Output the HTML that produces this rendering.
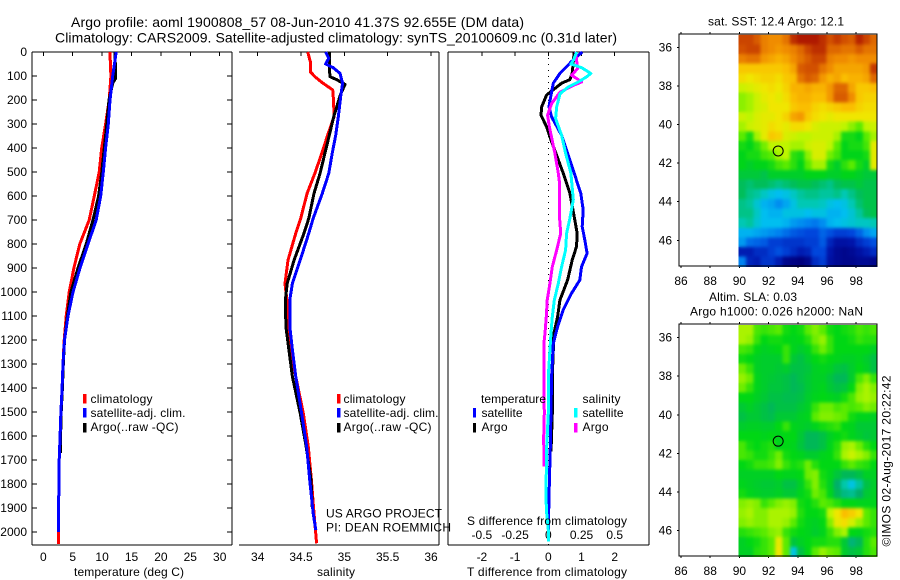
<!DOCTYPE html>
<html lang="en">
<head>
<meta charset="utf-8">
<title>Argo profile</title>
<style>
html,body{margin:0;padding:0;background:#fff;}
svg{display:block;font-family:"Liberation Sans",sans-serif;fill:#000;font-size:12px;}
</style>
</head>
<body>
<svg id="chart" width="900" height="580" viewBox="0 0 900 580" xmlns="http://www.w3.org/2000/svg">
<defs>
<filter id="soften" x="0" y="0" width="100%" height="100%" color-interpolation-filters="sRGB">
<feGaussianBlur in="SourceGraphic" stdDeviation="1.5" result="blurred"/>
<feMerge><feMergeNode in="SourceGraphic"/><feMergeNode in="blurred"/></feMerge>
</filter>
</defs>
<rect width="900" height="580" fill="#fff"/>
<text x="71" y="27" font-size="14" textLength="453">Argo profile: aoml 1900808_57 08-Jun-2010 41.37S 92.655E (DM data)</text>
<text x="55" y="42.5" font-size="14" textLength="562">Climatology: CARS2009. Satellite-adjusted climatology: synTS_20100609.nc (0.31d later)</text>
<g id="layer-axes"></g>
<g id="layer-marks"></g>

<text x="74" y="576" textLength="110">temperature (deg C)</text>
<text x="317" y="576" textLength="38">salinity</text>
<text x="467" y="576" textLength="160">T difference from climatology</text>
<text x="467" y="525" textLength="160">S difference from climatology</text>

<g>
<rect x="83" y="394" width="3.5" height="9.5" fill="#f00"/>
<text x="90.5" y="403" textLength="62">climatology</text>
<rect x="83" y="408" width="3.5" height="9.5" fill="#00f"/>
<text x="90.5" y="417" textLength="95">satellite-adj. clim.</text>
<rect x="83" y="423" width="3.5" height="9.5" fill="#000"/>
<text x="90.5" y="431" textLength="88">Argo(..raw -QC)</text>
</g>
<g>
<rect x="337" y="394" width="3.5" height="9.5" fill="#f00"/>
<text x="343.5" y="403" textLength="62">climatology</text>
<rect x="337" y="408" width="3.5" height="9.5" fill="#00f"/>
<text x="343.5" y="417" textLength="95">satellite-adj. clim.</text>
<rect x="337" y="423" width="3.5" height="9.5" fill="#000"/>
<text x="343.5" y="431" textLength="88">Argo(..raw -QC)</text>
</g>
<g>
<text x="481" y="403" textLength="65">temperature</text>
<rect x="473" y="408" width="3" height="9.5" fill="#00f"/>
<text x="481.5" y="417" textLength="41">satellite</text>
<rect x="473" y="423" width="3" height="9.5" fill="#000"/>
<text x="481.5" y="431" textLength="26">Argo</text>
<text x="582.5" y="403" textLength="38">salinity</text>
<rect x="574" y="408" width="3.5" height="9.5" fill="#0ff"/>
<text x="582.5" y="417" textLength="41">satellite</text>
<rect x="574" y="423" width="3.5" height="9.5" fill="#f0f"/>
<text x="582.5" y="431" textLength="26">Argo</text>
</g>
<text x="326" y="517.5" textLength="116">US ARGO PROJECT</text>
<text x="326" y="531.5" textLength="125">PI: DEAN ROEMMICH</text>

<text x="708" y="25.5" textLength="136">sat. SST: 12.4 Argo: 12.1</text>
<text x="709" y="301" textLength="88">Altim. SLA: 0.03</text>
<text x="690" y="315.5" textLength="173">Argo h1000: 0.026 h2000: NaN</text>
<text transform="translate(890.5,546.5) rotate(-90)" textLength="171">©IMOS 02-Aug-2017 20:22:42</text>
</svg>

<script>
// ---- profile data (depth in dbar) ----
const depthTicks = [0,100,200,300,400,500,600,700,800,900,1000,1100,1200,1300,1400,1500,1600,1700,1800,1900,2000];
const tempTicks = [0,5,10,15,20,25,30];
const salTicks = [34,34.5,35,35.5,36];
const salTickLabels = ['34','34.5','35','35.5','36'];
const tDiffTicks = [-2,-1,0,1,2];
const sDiffTicks = [-0.5,-0.25,0,0.25,0.5];
const sDiffTickLabels = ['-0.5','-0.25','0','0.25','0.5'];

const tempClimDepth = [0,40,100,200,300,400,500,600,700,800,900,1000,1100,1200,1300,1400,1500,1600,1700,1800,1900,2000,2050];
const tempClim = [11.35,11.4,11.5,11.2,10.6,9.93,9.5,8.67,7.8,6.2,5.2,4.4,3.9,3.55,3.35,3.2,3.0,2.85,2.7,2.7,2.55,2.55,2.55];
const tempSatDepth = [0,100,200,300,400,500,600,700,800,900,1000,1100,1200,1300,1400,1500,1600,1700,1800,1900,2000];
const tempSat = [12.4,11.8,11.34,11.05,10.6,10.2,9.76,9.0,7.6,6.25,5.05,4.2,3.6,3.35,3.2,3.0,2.85,2.7,2.7,2.55,2.55];
const tempArgoDepth = [0,100,110,130,200,300,400,500,600,700,800,900,1000,1100,1200,1300,1400,1500,1600,1670];
const tempArgo = [12.2,12.3,12.3,11.8,11.17,10.8,10.37,9.95,9.4,8.45,7.3,5.9,4.7,4.1,3.6,3.4,3.25,3.05,2.95,2.95];

const salClimDepth = [0,40,82,103,128,158,207,270,347,422,505,589,693,755,867,964,1061,1172,1353,1505,1645,1783,1922,2047];
const salClim = [34.577,34.607,34.607,34.66,34.745,34.865,34.876,34.88,34.807,34.74,34.66,34.57,34.496,34.44,34.35,34.315,34.345,34.35,34.44,34.526,34.584,34.62,34.65,34.68];
const salSatDepth = [0,26,50,65,89,130,179,270,347,422,505,589,693,755,867,964,1033,1144,1241,1353,1505,1645,1783,1922,1992];
const salSat = [34.784,34.82,34.784,34.87,34.95,34.98,34.96,34.93,34.9,34.86,34.82,34.745,34.64,34.59,34.49,34.4,34.37,34.37,34.4,34.44,34.507,34.565,34.6,34.64,34.67];
const salArgoDepth = [0,65,103,115,135,179,270,347,422,505,589,693,755,867,964,1033,1144,1241,1353,1505,1645,1783,1900];
const salArgo = [34.826,34.826,34.834,34.91,35.007,34.953,34.877,34.826,34.776,34.72,34.65,34.59,34.534,34.42,34.34,34.32,34.326,34.36,34.4,34.49,34.56,34.615,34.63];

const dTSatDepth = [0,40,89,130,179,228,270,347,422,505,589,658,728,783,839,895,950,1006,1075,1145,1214,1353,1645,1853,1992];
const dTSat = [1.02,0.7,0.35,0.15,0.08,0.02,0.1,0.4,0.58,0.78,0.98,1.05,1.02,1.1,1.17,1.0,0.95,0.7,0.45,0.28,0.15,0.1,0.06,0.02,0];
const dTArgoDepth = [0,89,115,130,179,228,263,312,367,422,505,589,686,756,811,867,950,1034,1103,1172,1353,1506,1665];
const dTArgo = [0.78,0.72,0.65,0.4,-0.05,-0.2,-0.22,-0.05,0.08,0.23,0.45,0.65,0.78,0.87,0.85,0.72,0.58,0.35,0.28,0.17,0.12,0.12,0.08];
const dSSatDepth = [0,35,50,65,89,103,125,146,174,228,277,347,422,505,616,693,756,825,895,964,1034,1103,1172,1242,1353,1506,1645,1853,1922,1992,2040];
const dSSat = [0.214,0.188,0.17,0.25,0.32,0.29,0.226,0.15,0.088,0.063,0.055,0.1,0.13,0.17,0.188,0.163,0.138,0.13,0.1,0.075,0.045,0.03,0.02,0.012,0,0,-0.012,-0.018,-0.012,0,0];
const dSArgoDepth = [0,69,97,115,125,139,167,215,263,312,422,505,547,693,714,756,825,895,964,1034,1103,1172,1214,1353,1506,1603,1728];
const dSArgo = [0.206,0.22,0.176,0.226,0.25,0.188,0.088,0.025,-0.005,0.008,0.05,0.075,0.085,0.085,0.088,0.093,0.063,0.03,0.012,-0.008,-0.015,-0.025,-0.033,-0.033,-0.03,-0.035,-0.033];

// ---- map data ----
const mapLonTicks = [86,88,90,92,94,96,98];
const mapLatTicks = [36,38,40,42,44,46];
const floatLon = 92.655;
const floatLat = 41.37;

// Sea-surface temperature, deg C; rows north to south, columns west to east
const sstRows = [
[14.1,14.1,13.9,13.6,13.5,13.5,13.7,14.3,14.5,14.5,14.5,14.3,14.0,14.2,14.0,13.9,14.4,14.1,13.8],
[14.0,14.1,14.1,13.6,13.5,13.4,13.5,13.6,13.8,14.1,14.3,14.3,13.8,13.8,13.7,13.7,13.9,13.7,13.7],
[13.6,13.7,13.7,13.4,13.3,13.2,13.3,13.5,13.7,13.9,14.1,14.1,13.6,13.5,13.5,13.4,13.5,13.5,13.5],
[13.0,13.0,13.0,13.0,13.0,13.0,13.1,13.3,13.9,14.0,14.0,13.7,13.5,13.3,13.3,13.3,13.3,13.4,14.2],
[12.8,12.7,12.8,12.9,12.9,12.8,13.0,13.1,13.7,13.9,13.8,13.4,13.2,13.3,13.1,13.2,13.2,13.3,13.8],
[12.4,12.5,12.6,12.7,12.8,12.7,12.9,13.2,13.2,13.3,13.2,13.2,13.4,13.8,13.8,13.3,13.0,13.0,13.1],
[12.1,12.2,12.4,12.6,12.7,12.6,12.8,13.1,13.2,13.2,13.1,13.1,13.4,13.9,13.9,13.5,13.0,12.9,12.9],
[12.1,12.2,12.4,12.5,12.7,12.7,12.7,13.0,13.1,13.1,12.9,12.8,12.9,13.0,13.1,13.1,12.9,12.8,12.8],
[12.4,12.3,12.5,12.6,12.6,12.7,12.9,13.3,13.4,13.0,12.8,12.7,12.6,12.7,12.7,12.7,12.7,12.7,12.7],
[12.2,12.4,12.5,12.6,12.8,12.7,12.6,12.8,12.8,12.7,12.5,12.4,12.4,12.4,12.3,12.1,11.9,12.3,12.4],
[11.9,11.6,12.2,12.6,13.0,12.9,12.5,12.4,12.3,12.3,12.4,12.4,12.4,12.2,11.6,11.6,11.5,11.9,12.2],
[11.6,11.5,11.7,12.0,12.3,12.3,12.3,12.2,12.2,12.4,12.5,12.5,12.3,11.9,11.5,11.6,11.6,11.8,12.6],
[11.5,11.6,11.6,11.8,11.9,12.2,12.3,11.7,11.6,12.1,12.5,12.5,12.0,11.8,11.5,11.5,11.5,11.6,12.6],
[11.5,11.4,11.5,11.5,11.6,11.8,11.9,11.7,11.5,11.9,12.2,12.2,11.6,11.4,11.7,11.9,11.6,11.4,12.6],
[11.3,11.3,11.3,11.2,11.4,11.4,11.4,11.4,11.4,11.5,11.5,11.5,11.4,11.4,11.5,11.5,11.4,11.3,11.3],
[11.1,11.0,11.1,11.1,11.0,10.9,11.0,11.1,11.2,11.2,11.1,11.0,10.9,11.1,11.2,11.2,11.3,11.2,11.2],
[11.1,10.9,10.8,10.6,10.4,10.3,10.4,10.6,10.8,10.9,10.9,10.8,10.8,10.9,10.7,10.9,11.1,11.2,11.2],
[10.9,10.8,10.5,10.2,10.1,9.9,10.1,10.4,10.7,10.7,10.7,10.6,10.4,10.3,10.4,10.7,11.0,11.2,11.2],
[10.9,10.9,10.6,10.3,10.2,10.2,10.4,10.4,10.4,10.3,10.4,10.4,10.2,10.2,10.3,10.5,10.8,11.1,11.2],
[10.7,10.8,10.5,10.3,10.3,10.3,10.2,10.0,9.9,9.8,9.7,9.9,10.2,10.3,10.4,10.5,10.6,10.6,10.7],
[10.2,10.2,10.1,10.0,9.9,9.8,9.6,9.4,9.3,9.2,9.2,9.5,9.3,9.1,9.1,9.2,9.5,9.9,10.1],
[10.0,9.6,9.5,9.4,9.1,9.1,9.0,9.0,9.0,9.1,9.1,9.4,8.8,8.5,8.5,8.6,8.9,9.1,9.3],
[8.7,8.7,8.9,8.9,9.1,9.3,9.1,8.9,8.7,8.8,9.2,9.2,8.6,8.3,8.2,8.3,8.5,8.7,8.9],
[9.8,8.8,8.7,9.0,9.0,8.7,8.2,8.1,8.0,8.2,8.9,9.1,8.5,8.3,8.2,8.2,8.3,8.3,8.2]
];

// Sea-level anomaly, cm; rows north to south, columns west to east
const slaRows = [
[9,9,4,3,4,5,1,0,1,5,7,5,1,0,1,2,4,3,4],
[9,8,3,0,1,1,0,-1,0,2,6,8,3,0,0,1,3,2,2],
[4,3,0,-2,-1,0,3,-1,-3,-1,3,6,3,0,0,0,0,0,-2],
[1,0,-2,-3,-3,-3,3,-4,-6,-3,0,1,0,-1,-2,-2,-1,-3,-6],
[6,3,-2,-3,-3,-4,-3,-6,-6,-5,-2,-1,-2,-5,-6,-3,0,-2,-6],
[8,6,-1,-3,-4,-5,-6,-8,-6,-4,-2,-2,-5,-8,-8,-3,4,7,3],
[6,3,-1,-3,-5,-5,-6,-8,-7,-4,-2,-1,-4,-6,-5,0,7,9,7],
[0,0,-2,-4,-6,-6,-7,-7,-6,-3,-1,0,-1,-2,1,4,8,9,8],
[-4,-2,-4,-6,-8,-6,-6,-6,-4,-2,3,6,6,4,5,4,5,7,6],
[-6,-4,-4,-6,-7,-4,-4,-4,-2,-1,5,7,7,6,5,1,-1,-1,-2],
[-3,-2,-2,-3,-3,0,3,-1,-2,-3,-1,1,2,3,0,-1,-4,-4,-4],
[0,0,0,-1,0,-1,0,0,-4,-8,-8,-6,-2,0,1,-1,-3,-5,-4],
[4,1,0,1,2,-1,0,-1,-5,-8,-8,-6,-1,2,8,9,6,2,0],
[4,3,1,1,3,6,1,0,-1,-3,-3,-1,0,3,9,11,9,7,3],
[0,1,3,3,4,7,3,1,2,6,2,0,0,0,3,5,3,2,0],
[-2,-2,-2,-2,-2,0,-1,-1,0,6,7,1,-1,-5,-8,-8,-6,-2,-2],
[-1,-2,-3,-4,-4,-3,-6,-6,-2,3,7,2,-2,-10,-20,-26,-18,-6,-3],
[1,-1,-2,-3,-3,-2,-4,-4,-1,1,6,4,-1,-8,-14,-16,-10,-4,-2],
[7,8,7,3,5,7,8,7,1,0,2,5,4,2,0,0,-1,-1,-1],
[8,9,7,7,9,9,9,8,2,0,0,1,10,15,20,18,15,5,3],
[7,8,7,7,9,9,8,5,1,-1,-2,0,7,14,16,12,8,5,3],
[2,3,4,5,7,8,3,1,0,-1,-3,-1,3,7,9,0,-1,1,2],
[-2,0,1,3,5,14,5,-5,-2,0,1,1,2,2,-4,-12,-8,2,5],
[-2,-2,2,3,5,15,5,-26,-6,0,5,8,6,5,-3,-6,-4,2,4]
];

// ---- scales ----
const svgNS = 'http://www.w3.org/2000/svg';
const axesLayer = document.getElementById('layer-axes');
const marksLayer = document.getElementById('layer-marks');

function yDepth(d){ return 52 + d * 0.24; }
function xTemp(t){ return 43.3 + t * 5.88; }
function xSal(s){ return 257.7 + (s - 34) * 86.65; }
function xDT(t){ return 548.3 + t * 33.2; }
function xDS(s){ return 548.3 + s * 132.8; }
function xLon(l){ return 681 + (l - 86) * 14.6; }
function ySstLat(l){ return 47.3 + (l - 36) * 19.3; }
function ySlaLat(l){ return 337.7 + (l - 36) * 19.27; }

function mk(tag, attrs, parent){
  const el = document.createElementNS(svgNS, tag);
  for (const k in attrs) el.setAttribute(k, attrs[k]);
  parent.appendChild(el);
  return el;
}
function hLine(name, x1, x2, y){
  const el = mk('line', {x1:x1, x2:x2, y1:y, y2:y, stroke:'#000', 'stroke-width':1, 'shape-rendering':'crispEdges'}, axesLayer);
  
  
}
function vLine(name, x, y1, y2){
  const el = mk('line', {x1:x, x2:x, y1:y1, y2:y2, stroke:'#000', 'stroke-width':1, 'shape-rendering':'crispEdges'}, axesLayer);
  
  
}
function label(name, str, x, y, anchor, size){
  const el = mk('text', {x:x, y:y, 'text-anchor':anchor, 'font-size':size || 12}, axesLayer);
  
  
  el.textContent = str;
}
function profile(name, color, depths, values, xFn){
  const pts = depths.map((d, i) => xFn(values[i]).toFixed(1) + ',' + yDepth(d).toFixed(1)).join(' ');
  const el = mk('polyline', {points:pts, fill:'none', stroke:color, 'stroke-width':3, 'stroke-linejoin':'round', 'shape-rendering':'crispEdges'}, marksLayer);
  
  
}

// ---- profile panel frames ----
const top0 = 52, bot0 = 545;
// temperature panel
hLine('temperature-panel-top', 32, 232, top0);
hLine('temperature-panel-bottom', 32, 232, bot0);
vLine('temperature-panel-left', 32, top0, bot0);
vLine('temperature-panel-right', 232, top0, bot0);
depthTicks.forEach(d => {
  hLine('depth-tick-left', 32, 37, yDepth(d));
  hLine('depth-tick-right', 227, 232, yDepth(d));
  label('depth-tick-label', String(d), 27, yDepth(d) + 4, 'end');
});
tempTicks.forEach(t => {
  vLine('temperature-tick', xTemp(t), top0, top0 + 4);
  label('temperature-tick-label', String(t), xTemp(t), 561, 'middle');
});
// salinity panel (no left spine)
hLine('salinity-panel-top', 239, 439, top0);
hLine('salinity-panel-bottom', 239, 439, bot0);
vLine('salinity-panel-right', 439, top0, bot0);
salTicks.forEach((s, i) => {
  vLine('salinity-tick', xSal(s), top0, top0 + 4);
  label('salinity-tick-label', salTickLabels[i], xSal(s), 561, 'middle');
});
// difference panel
hLine('difference-panel-top', 448, 649, top0);
hLine('difference-panel-bottom', 448, 649, bot0);
vLine('difference-panel-left', 448, top0, bot0);
vLine('difference-panel-right', 649, top0, bot0);
tDiffTicks.forEach(t => {
  vLine('t-difference-tick', xDT(t), top0, top0 + 4);
  label('t-difference-tick-label', String(t), xDT(t), 561, 'middle');
});
sDiffTicks.forEach((s, i) => {
  label('s-difference-tick-label', sDiffTickLabels[i], xDS(s), 539, 'middle');
});
const zeroLine = mk('line', {x1:xDT(0), x2:xDT(0), y1:top0, y2:bot0, stroke:'#000', 'stroke-width':1, 'stroke-dasharray':'1 5', 'shape-rendering':'crispEdges'}, axesLayer);



// ---- profile series ----
profile('temperature-climatology-line', '#f00', tempClimDepth, tempClim, xTemp);
profile('temperature-argo-line', '#000', tempArgoDepth, tempArgo, xTemp);
profile('temperature-satellite-line', '#00f', tempSatDepth, tempSat, xTemp);
profile('salinity-climatology-line', '#f00', salClimDepth, salClim, xSal);
profile('salinity-argo-line', '#000', salArgoDepth, salArgo, xSal);
profile('salinity-satellite-line', '#00f', salSatDepth, salSat, xSal);
profile('t-difference-argo-line', '#000', dTArgoDepth, dTArgo, xDT);
profile('t-difference-satellite-line', '#00f', dTSatDepth, dTSat, xDT);
profile('s-difference-argo-line', '#f0f', dSArgoDepth, dSArgo, xDS);
profile('s-difference-satellite-line', '#0ff', dSSatDepth, dSSat, xDS);

// ---- colour scales ----
const sstLevels = [8.0,8.6,9.2,9.8,10.3,10.7,11.1,11.5,11.9,12.3,12.7,13.1,13.5,14.0,14.5];
const slaLevels = [-40,-34,-31,-28,-24,-20,-10,-5,0,5,10,15,20,26,32];
const rampColors = [[0,0,125],[0,20,170],[0,70,220],[0,130,240],[0,190,240],[0,200,180],[0,190,90],[0,212,25],[90,235,0],[190,245,0],[240,230,0],[250,190,0],[240,140,0],[210,80,0],[175,25,0]];
const slaRampColors = [[0,0,125],[0,20,170],[0,70,220],[0,190,240],[0,200,210],[0,200,170],[0,175,105],[0,198,60],[0,215,20],[90,235,0],[190,245,0],[240,230,0],[250,190,0],[240,140,0],[210,80,0]];
function ramp(v, levels, colors){
  if (v <= levels[0]) return 'rgb(' + colors[0].join(',') + ')';
  for (let i = 1; i < levels.length; i++) {
    if (v <= levels[i]) {
      const f = (v - levels[i-1]) / (levels[i] - levels[i-1]);
      const c = colors[i-1].map((a, k) => Math.round(a + (colors[i][k] - a) * f));
      return 'rgb(' + c.join(',') + ')';
    }
  }
  return 'rgb(' + colors[colors.length-1].join(',') + ')';
}

// ---- maps ----
function drawMap(prefix, rows, levels, colors, yLat, top, bottom, tickBaseline){
  const firstLon = 90.2, firstLat = 35.6, step = 0.5;
  const g = mk('g', {}, marksLayer);
  
  
  const cells = mk('g', {filter:'url(#soften)'}, g);
  
  
  rows.forEach((row, r) => {
    row.forEach((v, c) => {
      const lon = firstLon + c * step;
      const lat = firstLat + r * step;
      const x0 = xLon(lon - step / 2), x1 = xLon(lon + step / 2);
      const y0 = yLat(lat - step / 2), y1 = yLat(lat + step / 2);
      const cell = mk('rect', {x:x0, y:y0, width:x1 - x0 + 0.5, height:y1 - y0 + 0.5, fill:ramp(v, levels, colors), 'shape-rendering':'crispEdges'}, cells);
      
      
    });
  });
  const left = 679, right = 877;
  const mask = mk('rect', {x:right + 0.5, y:top - 1, width:6, height:bottom - top + 3, fill:'#fff'}, g);
  
  
  const frame = mk('rect', {x:left, y:top, width:right - left, height:bottom - top, fill:'none', stroke:'#000', 'stroke-width':1, 'shape-rendering':'crispEdges'}, g);
  
  
  mapLonTicks.forEach(l => {
    vLine(prefix + '-lon-tick-top', xLon(l), top - 2, top);
    vLine(prefix + '-lon-tick-bottom', xLon(l), bottom, bottom + 2);
    label(prefix + '-lon-label', String(l), xLon(l), tickBaseline, 'middle');
  });
  mapLatTicks.forEach(l => {
    hLine(prefix + '-lat-tick-left', left - 2, left, yLat(l));
    hLine(prefix + '-lat-tick-right', right, right + 2, yLat(l));
    label(prefix + '-lat-label', String(l), 672, yLat(l) + 4, 'end');
  });
  const dot = mk('circle', {cx:xLon(floatLon), cy:yLat(floatLat), r:5, fill:'none', stroke:'#000', 'stroke-width':1}, g);
  
  
}
drawMap('sst-map', sstRows, sstLevels, rampColors, ySstLat, 34, 266, 285);
drawMap('sla-map', slaRows, slaLevels, slaRampColors, ySlaLat, 324, 556, 575);
</script>
</body>
</html>
